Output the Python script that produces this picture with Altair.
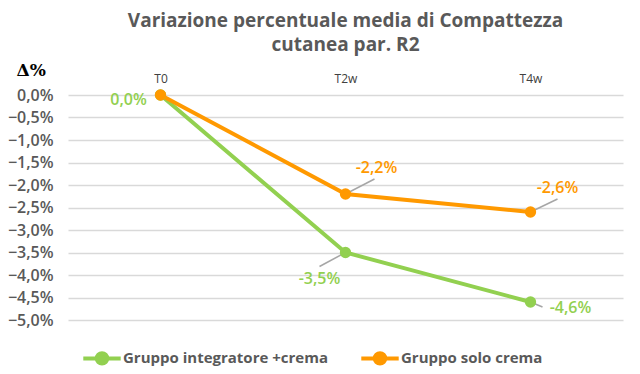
import altair as alt
import pandas as pd

times = ["T0", "T2w", "T4w"]
series_names = ["Gruppo integratore +crema", "Gruppo solo crema"]
green_values = [0.0, -3.5, -4.6]
orange_values = [0.0, -2.2, -2.6]
y_ticks = [0.0, -0.5, -1.0, -1.5, -2.0, -2.5, -3.0, -3.5, -4.0, -4.5, -5.0]

GREEN = "#92D050"
ORANGE = "#FF9900"
GREY = "#595959"
FONT = "Open Sans"

rows = []
for t, v in zip(times, green_values):
    rows.append({"time": t, "value": v, "group": series_names[0]})
for t, v in zip(times, orange_values):
    rows.append({"time": t, "value": v, "group": series_names[1]})
df = pd.DataFrame(rows)
df["label"] = df["value"].map(lambda v: f"{v:.1f}".replace(".", ",") + "%")

x = alt.X("time:N", scale=alt.Scale(type="point", padding=0.5), sort=times,
          axis=alt.Axis(orient="top", title=None, domain=False, ticks=False, grid=False,
                        labelAngle=0, labelFontSize=12, labelColor="#404040",
                        labelPadding=10, labelFont=FONT))
y = alt.Y("value:Q", scale=alt.Scale(domain=[-5, 0], nice=False, zero=False),
          axis=alt.Axis(values=y_ticks, title="Δ%", titleAngle=0, titleAlign="left",
                        titleBaseline="middle", titleX=-52, titleY=-25,
                        titleFont="DejaVu Serif", titleFontSize=17, titleFontWeight="bold",
                        titleColor="#000000",
                        labelExpr="replace(format(datum.value, '.1f'), '.', ',') + '%'",
                        labelFontSize=16, labelColor=GREY, labelPadding=15, labelFont=FONT,
                        labelFontWeight=600,
                        domain=False, ticks=False, gridColor="#d9d9d9", gridWidth=1.5))
legend = alt.Legend(title=None, orient="none", direction="horizontal",
                    legendX=13, legendY=242,
                    symbolType="M-1,0L-0.28,0M0.28,0L1,0M0.28,0A0.28,0.28 0 1 1 -0.28,0A0.28,0.28 0 1 1 0.28,0",
                    symbolSize=1400, symbolStrokeWidth=4,
                    labelFontSize=15, labelColor=GREY, labelFont=FONT, labelLimit=400,
                    labelFontWeight="bold", columnPadding=25,
                    labelOffset=0, symbolOpacity=1)
color_scale = alt.Scale(domain=series_names, range=[GREEN, ORANGE])
color = alt.Color("group:N", scale=color_scale, sort=series_names, legend=legend)

base = alt.Chart(df)

lines = base.mark_line(strokeWidth=4).encode(x=x, y=y, color=color)

points = base.mark_point(filled=True, size=70, strokeWidth=3, opacity=1).encode(
    x=x, y=y, color=color,
    stroke=alt.Stroke("group:N", scale=color_scale, sort=series_names, legend=legend))

# leader lines and labels, per point
specs = [
    # group, time, label dx, dy, leader x2Offset, y2Offset, color
    (series_names[0], "T0", -32, 5, None, None, GREEN),
    (series_names[1], "T2w", 31, -26, 29, -15, ORANGE),
    (series_names[1], "T4w", 27, -24, 27, -13, ORANGE),
    (series_names[0], "T2w", -26, 26, -26, 14, GREEN),
    (series_names[0], "T4w", 40, 6, 12, 5, GREEN),
]
layers = [lines, points]
for g, t, dx, dy, lx, ly, col in specs:
    sub = base.transform_filter(
        (alt.datum.group == g) & (alt.datum.time == t))
    if lx is not None:
        layers.insert(0, sub.mark_rule(color="#a6a6a6", strokeWidth=1.5,
                                       x2Offset=lx, y2Offset=ly).encode(
            x=x, y=y, x2="time:N", y2="value:Q"))
    layers.append(sub.mark_text(dx=dx, dy=dy, fontSize=16, font=FONT, color=col,
                                fontWeight=600, baseline="middle", align="center").encode(
        x=x, y=y, text="label:N"))

chart = alt.layer(*layers).properties(
    width=555, height=225,
    padding={"left": 60, "top": 87, "right": 9, "bottom": 46},
    autosize=alt.AutoSizeParams(type="none"),
    title=alt.TitleParams(["Variazione percentuale media di Compattezza", "cutanea par. R2"],
                          fontSize=19, font=FONT, fontWeight="bold", color=GREY,
                          anchor="middle", offset=6, lineHeight=24),
).configure_view(stroke=None)

chart.save("out.html", embed_options={"renderer": "svg", "actions": False})
